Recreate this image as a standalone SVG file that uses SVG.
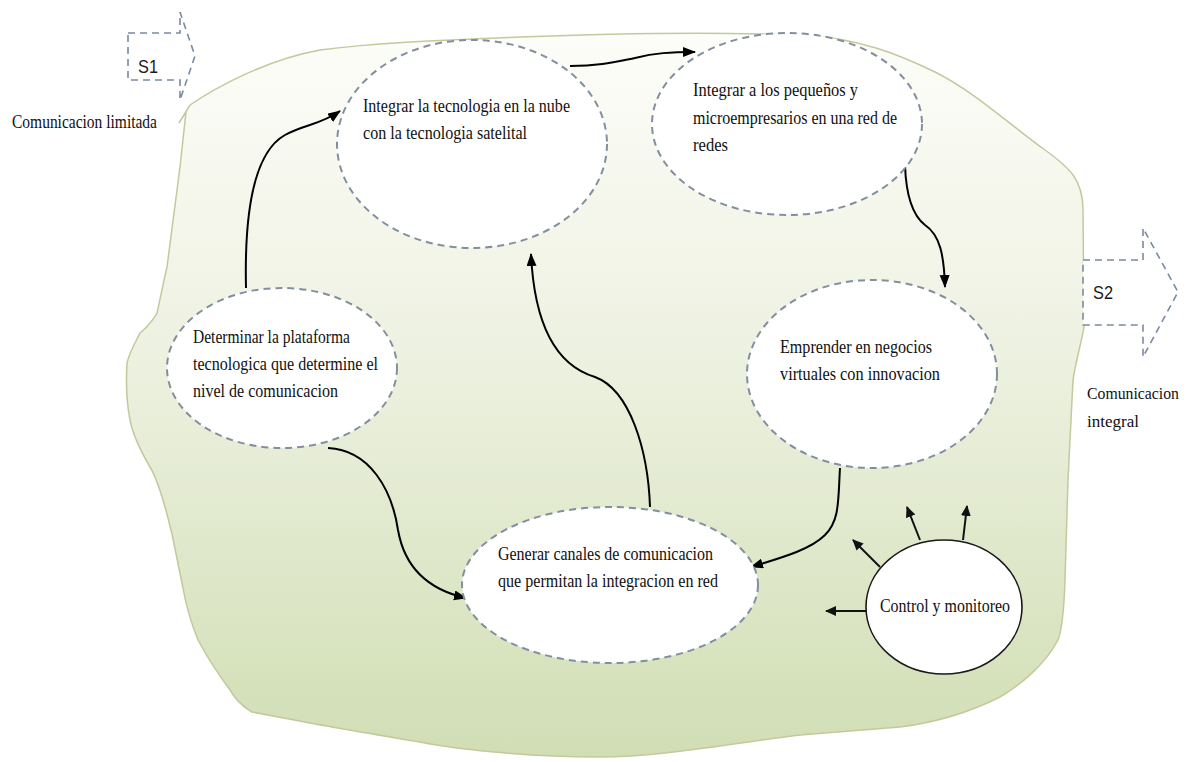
<svg xmlns="http://www.w3.org/2000/svg" width="1192" height="762" viewBox="0 0 1192 762">
<defs>
<linearGradient id="blobGrad" x1="0" y1="0" x2="0" y2="1">
<stop offset="0" stop-color="#fdfdf9"/>
<stop offset="0.45" stop-color="#edf1e0"/>
<stop offset="1" stop-color="#d1deb4"/>
</linearGradient>
<marker id="ah" markerUnits="userSpaceOnUse" markerWidth="14" markerHeight="12" refX="12" refY="5" orient="auto">
<path d="M0,0 L13,5 L0,10 z" fill="#000"/>
</marker>
<marker id="ahs" markerUnits="userSpaceOnUse" markerWidth="12" markerHeight="12" refX="10" refY="5" orient="auto">
<path d="M0,0 L11,5 L0,10 z" fill="#111"/>
</marker>
</defs>
<style>
.t{font-family:"Liberation Serif","Times New Roman",serif;font-size:19px;fill:#111}
.tr{font-family:"Liberation Serif","Times New Roman",serif;font-size:17px;fill:#111}
.s{font-family:"Liberation Sans",Arial,sans-serif;font-size:19px;fill:#1a1a1a}
.node{fill:#fff;stroke:#838fa0;stroke-width:2;stroke-dasharray:7 5}
.sarrow{fill:#fff;stroke:#7a8aa3;stroke-width:1.6;stroke-dasharray:7 5}
.conn{fill:none;stroke:#000;stroke-width:2;marker-end:url(#ah)}
.ctl{fill:none;stroke:#111;stroke-width:2;marker-end:url(#ahs)}
</style>
<rect width="1192" height="762" fill="#fff"/>
<g id="background">
<path d="M179,123 L190,105 C215,88 265,60 320,50 C380,42 450,40 520,37 C620,33 720,32 800,35 C860,38 900,55 935,72 C975,92 1010,125 1045,150 C1070,168 1083,180 1083,210 L1084,327 C1082,340 1076,360 1073,380 L1068,480 L1065,580 C1064,610 1062,630 1058,640 C1045,665 1020,685 1000,697 C970,712 940,722 900,727 L800,735 C720,745 660,757 600,757 C520,757 450,748 420,742 C360,732 320,725 305,722 L252,712 C240,705 235,698 230,690 C215,670 206,655 198,640 C190,620 185,600 183,588 L172,534 C165,505 158,480 150,467 C140,450 133,435 130,420 C126,400 126,380 127,363 C130,350 138,338 140,333 C150,325 156,315 157,313 C162,290 165,275 167,267 L180,167 L186,112 Z" fill="url(#blobGrad)" stroke="#c2c99d" stroke-width="1.5"/>
</g>
<g id="s1">
<path class="sarrow" d="M128,33 L180,33 L180,12 L195,56 L180,100 L180,80 L128,80 Z"/>
<text class="s" x="138" y="73" textLength="20" lengthAdjust="spacingAndGlyphs">S1</text>
</g>
<g id="label-limitada">
<text class="t" x="12" y="128" textLength="145" lengthAdjust="spacingAndGlyphs">Comunicacion limitada</text>
</g>
<g id="s2">
<path class="sarrow" d="M1083,260 L1143,260 L1143,228 L1178,292 L1143,357 L1143,325 L1083,325 Z"/>
<text class="s" x="1093" y="299" textLength="20" lengthAdjust="spacingAndGlyphs">S2</text>
</g>
<g id="label-integral">
<text class="tr" x="1087" y="399" textLength="92" lengthAdjust="spacingAndGlyphs">Comunicacion</text>
<text class="tr" x="1087" y="427" textLength="52" lengthAdjust="spacingAndGlyphs">integral</text>
</g>
<g id="connectors">
<path class="conn" d="M246,288 C244,200 258,150 285,135 C305,124 320,125 340,111"/>
<path class="conn" d="M570,66 C600,66 615,62 635,58 C655,53 670,52 695,52"/>
<path class="conn" d="M905,165 C906,195 912,215 925,225 C940,235 944,255 945,287"/>
<path class="conn" d="M840,468 C838,500 840,520 825,535 C810,550 780,558 751,567"/>
<path class="conn" d="M650,507 C648,450 630,390 595,377 C565,368 535,340 531,254"/>
<path class="conn" d="M328,448 C370,450 392,490 398,530 C405,570 430,590 466,598"/>
<path class="ctl" d="M867,611 L826,611" stroke-width="3.5" stroke="#2a3020"/>
<path class="ctl" d="M880,567 L853,540"/>
<path class="ctl" d="M920,540 L907,507"/>
<path class="ctl" d="M963,540 L967,506"/>
</g>
<g id="node-nube">
<ellipse class="node" cx="472" cy="144" rx="135" ry="104"/>
<text class="t" x="363" y="112" textLength="207" lengthAdjust="spacingAndGlyphs">Integrar la tecnologia en la nube</text>
<text class="t" x="363" y="139" textLength="164" lengthAdjust="spacingAndGlyphs">con la tecnologia satelital</text>
</g>
<g id="node-pequenos">
<ellipse class="node" cx="787" cy="124" rx="135" ry="91"/>
<text class="t" x="693" y="96" textLength="165" lengthAdjust="spacingAndGlyphs">Integrar a los pequeños y</text>
<text class="t" x="693" y="124" textLength="204" lengthAdjust="spacingAndGlyphs">microempresarios en una red de</text>
<text class="t" x="693" y="151" textLength="35" lengthAdjust="spacingAndGlyphs">redes</text>
</g>
<g id="node-determinar">
<ellipse class="node" cx="282" cy="368" rx="115" ry="80"/>
<text class="t" x="193" y="343" textLength="157" lengthAdjust="spacingAndGlyphs">Determinar la plataforma</text>
<text class="t" x="193" y="370" textLength="185" lengthAdjust="spacingAndGlyphs">tecnologica que determine el</text>
<text class="t" x="193" y="397" textLength="145" lengthAdjust="spacingAndGlyphs">nivel de comunicacion</text>
</g>
<g id="node-emprender">
<ellipse class="node" cx="872" cy="374" rx="125" ry="94"/>
<text class="t" x="780" y="353" textLength="152" lengthAdjust="spacingAndGlyphs">Emprender en negocios</text>
<text class="t" x="780" y="380" textLength="160" lengthAdjust="spacingAndGlyphs">virtuales con innovacion</text>
</g>
<g id="node-generar">
<ellipse class="node" cx="610" cy="585" rx="148" ry="78"/>
<text class="t" x="498" y="560" textLength="215" lengthAdjust="spacingAndGlyphs">Generar canales de comunicacion</text>
<text class="t" x="498" y="587" textLength="220" lengthAdjust="spacingAndGlyphs">que permitan la integracion en red</text>
</g>
<g id="node-control">
<ellipse cx="944" cy="607" rx="78" ry="67" fill="#fff" stroke="#1a1a1a" stroke-width="1.6"/>
<text class="t" x="880" y="612" textLength="130" lengthAdjust="spacingAndGlyphs">Control y monitoreo</text>
</g>
</svg>
